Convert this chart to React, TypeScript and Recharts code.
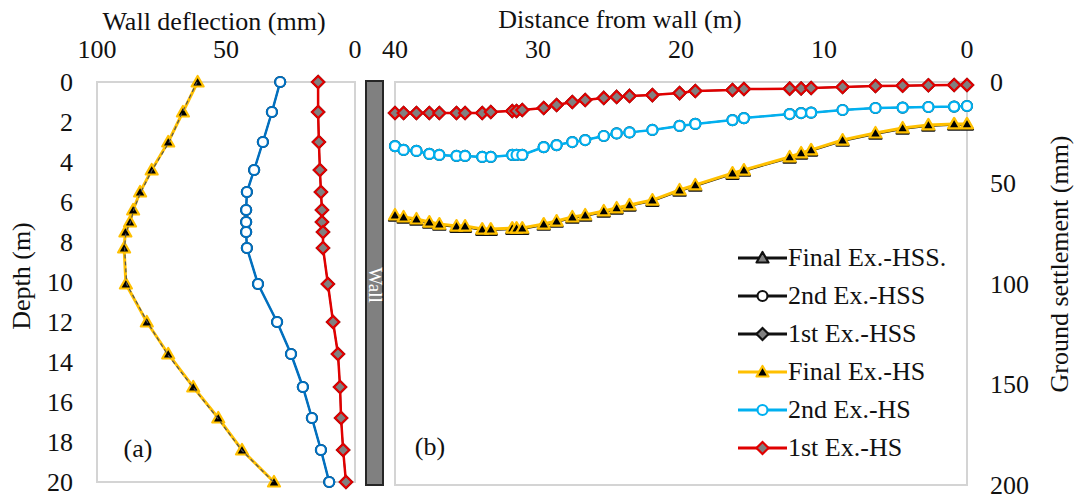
import { ScatterChart, Scatter, XAxis, YAxis, ReferenceArea } from 'recharts';

// (a) wall deflection profile
const depth = [0, 1.5, 3, 4.4, 5.5, 6.4, 7.0, 7.5, 8.3, 10.1, 12, 13.6, 15.25, 16.8, 18.4, 20];
const deflFinalHS = [61, 66.7, 72.4, 78.8, 83.3, 86, 87.2, 89, 89.5, 88.8, 80.7, 72.4, 62.7, 53, 43.8, 31.4];
const defl2ndHS = [29, 32.2, 35.7, 39.1, 41.9, 42.2, 42.2, 42.2, 41.9, 37.6, 30.2, 24.8, 20.2, 16.7, 13.2, 10];
const defl1stHS = [14.3, 14.3, 14, 13.6, 13.2, 12.8, 12.8, 12.4, 12.4, 10.5, 8.5, 6.6, 5.8, 5.4, 4.6, 3.5];
const deflFinalHSS = [61.2, 66.9, 72.0, 78.6, 83.0, 85.8, 87.0, 88.8, 89.3, 88.5, 80.5, 72.8, 62.9, 53.3, 44.0, 31.6];
const defl2ndHSS = [29, 32.2, 35.7, 39.1, 41.9, 42.2, 42.2, 42.2, 41.9, 37.6, 30.2, 24.8, 20.2, 16.7, 13.2, 10];
const defl1stHSS = [14.3, 14.3, 14, 13.6, 13.2, 12.8, 12.8, 12.4, 12.4, 10.5, 8.5, 6.6, 5.8, 5.4, 4.6, 3.5];

// (b) ground settlement behind the wall
const distance = [40, 39.4, 38.5, 37.6, 36.9, 35.7, 35.1, 33.9, 33.3, 31.8, 31.5, 31.1, 29.6, 28.7, 27.6, 26.7, 25.4, 24.5, 23.6, 22.0, 20.1, 19.0, 16.4, 15.6, 12.4, 11.6, 10.9, 8.7, 6.4, 4.5, 2.7, 0.9, 0];
const settleFinalHS = [66, 67, 68, 69.5, 70.5, 71.5, 71.5, 73, 73, 72.5, 72.5, 72.5, 70.5, 69, 67, 66, 64, 62.5, 61, 58.6, 53.6, 51.1, 45.2, 43.7, 37.2, 35.2, 33.7, 28.8, 25.3, 22.8, 21.3, 20.8, 20.8];
const settle2ndHS = [31.8, 33.7, 34.2, 35.7, 36.2, 36.7, 36.7, 37.2, 37.2, 36.2, 36.2, 36.2, 32.3, 31.3, 29.8, 28.8, 26.8, 25.5, 25, 23.8, 21.8, 20.8, 18.9, 17.9, 15.9, 15.4, 15.2, 13.9, 12.9, 12.7, 12.4, 12.2, 11.9];
const settle1stHS = [15.4, 15.4, 15.4, 15.4, 15.4, 15.4, 15.4, 15.4, 14.9, 14.4, 14.4, 13.9, 12.9, 11.4, 9.9, 8.9, 7.9, 7.4, 6.9, 6.5, 5.5, 4.5, 4, 3.5, 3.3, 3.2, 3, 2.5, 2, 1.8, 1.6, 1.5, 1.5];
const settleFinalHSS = [66.6, 67.6, 68.6, 70.1, 71.1, 72.1, 72.1, 73.6, 73.6, 73.1, 73.1, 73.1, 71.1, 69.6, 67.6, 66.6, 64.6, 63.1, 61.6, 59.2, 54.2, 51.7, 45.8, 44.3, 37.8, 35.8, 34.3, 29.4, 25.9, 23.4, 21.9, 21.4, 21.4];
const settle2ndHSS = [31.8, 33.7, 34.2, 35.7, 36.2, 36.7, 36.7, 37.2, 37.2, 36.2, 36.2, 36.2, 32.3, 31.3, 29.8, 28.8, 26.8, 25.5, 25, 23.8, 21.8, 20.8, 18.9, 17.9, 15.9, 15.4, 15.2, 13.9, 12.9, 12.7, 12.4, 12.2, 11.9];
const settle1stHSS = [15.4, 15.4, 15.4, 15.4, 15.4, 15.4, 15.4, 15.4, 14.9, 14.4, 14.4, 13.9, 12.9, 11.4, 9.9, 8.9, 7.9, 7.4, 6.9, 6.5, 5.5, 4.5, 4, 3.5, 3.3, 3.2, 3, 2.5, 2, 1.8, 1.6, 1.5, 1.5];

const deflTicks = [0, 50, 100];
const depthTicks = [0, 2, 4, 6, 8, 10, 12, 14, 16, 18, 20];
const distTicks = [0, 10, 20, 30, 40];
const settleTicks = [0, 50, 100, 150, 200];

const YELLOW = '#FFC000';
const BLUE_A = '#0070C0';
const BLUE_B = '#00B0F0';
const RED = '#E00000';
const GRAY = '#808080';
const FONT = '"Liberation Serif", Tinos, "Times New Roman", "DejaVu Serif", serif';

const profile = (xs: number[]) => depth.map((d, i) => ({ x: xs[i], y: d }));
const trough = (ys: number[]) => distance.map((d, i) => ({ x: d, y: ys[i] }));

function Tri({ cx, cy, stroke, fill }: any) {
  return <polygon points={`${cx},${cy - 6} ${cx + 6},${cy + 4.5} ${cx - 6},${cy + 4.5}`} fill={fill} stroke={stroke} strokeWidth={2.2} strokeLinejoin="round" />;
}
function Circ({ cx, cy, stroke, fill }: any) {
  return <circle cx={cx} cy={cy} r={5} fill={fill} stroke={stroke} strokeWidth={2.2} />;
}
function Dia({ cx, cy, stroke, fill }: any) {
  return <polygon points={`${cx},${cy - 6} ${cx + 6},${cy} ${cx},${cy + 6} ${cx - 6},${cy}`} fill={fill} stroke={stroke} strokeWidth={2.2} />;
}

const tickStyle = { fontFamily: FONT, fontSize: 26, fill: '#111' };

const legendRows = [
  { label: 'Final Ex.-HSS.', color: '#111', Mark: Tri, mStroke: '#111', mFill: GRAY },
  { label: '2nd Ex.-HSS', color: '#111', Mark: Circ, mStroke: '#111', mFill: '#fff' },
  { label: '1st Ex.-HSS', color: '#111', Mark: Dia, mStroke: '#111', mFill: GRAY },
  { label: 'Final Ex.-HS', color: YELLOW, Mark: Tri, mStroke: YELLOW, mFill: '#000' },
  { label: '2nd Ex.-HS', color: BLUE_B, Mark: Circ, mStroke: BLUE_B, mFill: '#fff' },
  { label: '1st Ex.-HS', color: RED, Mark: Dia, mStroke: RED, mFill: GRAY },
];

const textAt = (left: number, top: number, rotate = 0): any => ({
  position: 'absolute', left, top, transform: `translate(-50%, -50%) rotate(${rotate}deg)`,
  whiteSpace: 'nowrap', fontFamily: FONT, fontSize: 26, color: '#111', lineHeight: '30px',
});

export default function App() {
  return (
    <div style={{ position: 'absolute', left: 0, top: 0, width: 1083, height: 497, background: '#fff', overflow: 'hidden' }}>
      <ScatterChart width={380} height={497} margin={{ top: 52, right: 25, bottom: 15, left: 47 }} style={{ position: 'absolute', left: 0, top: 0 }}>
        <XAxis type="number" dataKey="x" orientation="top" reversed domain={[0, 100]} ticks={deflTicks} height={30}
          axisLine={false} tickLine={false} tickSize={0} tickMargin={24} tick={tickStyle} interval={0} />
        <YAxis type="number" dataKey="y" reversed domain={[0, 20]} ticks={depthTicks} width={50}
          axisLine={false} tickLine={false} tickSize={0} tickMargin={24} tick={tickStyle} interval={0} />
        <ReferenceArea x1={0} x2={100} y1={0} y2={20} fill="none" stroke="#d4d4d4" strokeWidth={2} ifOverflow="visible" />
        <Scatter name="2nd Ex.-HSS" data={profile(defl2ndHSS)} line={{ stroke: '#111', strokeWidth: 1.5 }} isAnimationActive={false}
          shape={(p: any) => <Circ cx={p.cx} cy={p.cy} stroke="#111" fill="#fff" />} />
        <Scatter name="1st Ex.-HSS" data={profile(defl1stHSS)} line={{ stroke: '#111', strokeWidth: 1.5 }} isAnimationActive={false}
          shape={(p: any) => <Dia cx={p.cx} cy={p.cy} stroke="#111" fill={GRAY} />} />
        <Scatter name="Final Ex.-HS" data={profile(deflFinalHS)} line={{ stroke: YELLOW, strokeWidth: 3 }} isAnimationActive={false}
          shape={(p: any) => <Tri cx={p.cx} cy={p.cy} stroke={YELLOW} fill="#000" />} />
        <Scatter name="2nd Ex.-HS" data={profile(defl2ndHS)} line={{ stroke: BLUE_A, strokeWidth: 2.5 }} isAnimationActive={false}
          shape={(p: any) => <Circ cx={p.cx} cy={p.cy} stroke={BLUE_A} fill="#fff" />} />
        <Scatter name="1st Ex.-HS" data={profile(defl1stHS)} line={{ stroke: RED, strokeWidth: 2.5 }} isAnimationActive={false}
          shape={(p: any) => <Dia cx={p.cx} cy={p.cy} stroke={RED} fill={GRAY} />} />
        <Scatter name="Final Ex.-HSS." data={profile(deflFinalHSS)} line={{ stroke: '#555', strokeWidth: 1.2, strokeDasharray: '4 3' }} isAnimationActive={false}
          shape={() => <g />} />
      </ScatterChart>

      <ScatterChart width={713} height={497} margin={{ top: 52, right: 0, bottom: 12, left: 25 }} style={{ position: 'absolute', left: 370, top: 0 }}>
        <XAxis type="number" dataKey="x" orientation="top" reversed domain={[0, 40]} ticks={distTicks} height={30}
          axisLine={false} tickLine={false} tickSize={0} tickMargin={24} tick={tickStyle} interval={0} />
        <YAxis type="number" dataKey="y" orientation="right" reversed domain={[0, 200]} ticks={settleTicks} width={116}
          axisLine={false} tickLine={false} tickSize={0} tickMargin={23} tick={tickStyle} interval={0} />
        <ReferenceArea x1={0} x2={40} y1={0} y2={200} fill="none" stroke="#d4d4d4" strokeWidth={2} ifOverflow="visible" />
        <Scatter name="Final Ex.-HSS." data={trough(settleFinalHSS)} line={{ stroke: '#111', strokeWidth: 1.5 }} isAnimationActive={false}
          shape={(p: any) => <Tri cx={p.cx} cy={p.cy} stroke="#111" fill={GRAY} />} />
        <Scatter name="2nd Ex.-HSS" data={trough(settle2ndHSS)} line={{ stroke: '#111', strokeWidth: 1.5 }} isAnimationActive={false}
          shape={(p: any) => <Circ cx={p.cx} cy={p.cy} stroke="#111" fill="#fff" />} />
        <Scatter name="1st Ex.-HSS" data={trough(settle1stHSS)} line={{ stroke: '#111', strokeWidth: 1.5 }} isAnimationActive={false}
          shape={(p: any) => <Dia cx={p.cx} cy={p.cy} stroke="#111" fill={GRAY} />} />
        <Scatter name="Final Ex.-HS" data={trough(settleFinalHS)} line={{ stroke: YELLOW, strokeWidth: 3 }} isAnimationActive={false}
          shape={(p: any) => <Tri cx={p.cx} cy={p.cy} stroke={YELLOW} fill="#000" />} />
        <Scatter name="2nd Ex.-HS" data={trough(settle2ndHS)} line={{ stroke: BLUE_B, strokeWidth: 2.5 }} isAnimationActive={false}
          shape={(p: any) => <Circ cx={p.cx} cy={p.cy} stroke={BLUE_B} fill="#fff" />} />
        <Scatter name="1st Ex.-HS" data={trough(settle1stHS)} line={{ stroke: RED, strokeWidth: 2.5 }} isAnimationActive={false}
          shape={(p: any) => <Dia cx={p.cx} cy={p.cy} stroke={RED} fill={GRAY} />} />
      </ScatterChart>

      {/* wall */}
      <div style={{ position: 'absolute', left: 365, top: 80, width: 19, height: 406, background: GRAY, border: '2px solid #262626', boxSizing: 'border-box' }}>
        <div style={{ position: 'absolute', left: 8, top: 203, transform: 'translate(-50%, -50%) rotate(90deg)', color: '#fff', fontFamily: FONT, fontSize: 19, whiteSpace: 'nowrap' }}>Wall</div>
      </div>

      <div style={textAt(214, 22)}>Wall deflection (mm)</div>
      <div style={textAt(620, 20)}>Distance from wall (m)</div>
      <div style={textAt(22, 276, -90)}>Depth (m)</div>
      <div style={textAt(1060, 264, -90)}>Ground settlement (mm)</div>
      <div style={{ ...textAt(138, 449) }}>(a)</div>
      <div style={{ ...textAt(430, 447) }}>(b)</div>

      {/* legend */}
      <div style={{ position: 'absolute', left: 736, top: 239 }}>
        {legendRows.map((r) => (
          <div key={r.label} style={{ display: 'flex', alignItems: 'center', height: 38 }}>
            <svg width={52} height={20} style={{ marginRight: 0 }}>
              <line x1={2} y1={10} x2={51} y2={10} stroke={r.color} strokeWidth={3} />
              <r.Mark cx={26.5} cy={10} stroke={r.mStroke} fill={r.mFill} />
            </svg>
            <span style={{ fontFamily: FONT, fontSize: 26, color: '#111', lineHeight: '30px', whiteSpace: 'nowrap' }}>{r.label}</span>
          </div>
        ))}
      </div>
    </div>
  );
}
